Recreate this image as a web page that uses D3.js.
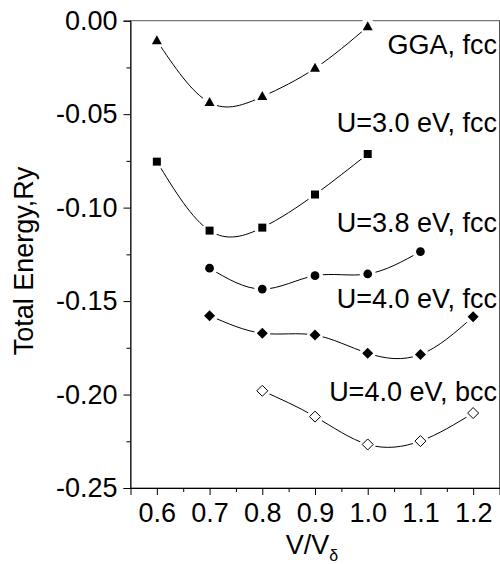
<!DOCTYPE html>
<meta charset="utf-8">
<script src="https://d3js.org/d3.v7.min.js"></script>
<style>
body { margin: 0; background: #fff; }
svg text { font-family: "Liberation Sans", Arial, sans-serif; fill: #000; }
</style>
<div id="chart"></div>
<script>
// volume ratios and total energies (Ry)
var vGGA = [0.6, 0.7, 0.8, 0.9, 1.0];
var eGGA = [-0.0107, -0.0438, -0.0406, -0.0255, -0.0032];

var vU30 = [0.6, 0.7, 0.8, 0.9, 1.0];
var eU30 = [-0.0754, -0.1123, -0.1107, -0.0930, -0.0713];

var vU38 = [0.7, 0.8, 0.9, 1.0, 1.1];
var eU38 = [-0.1324, -0.1436, -0.1364, -0.1355, -0.1235];

var vU40f = [0.7, 0.8, 0.9, 1.0, 1.1, 1.2];
var eU40f = [-0.1578, -0.1672, -0.1682, -0.1779, -0.1786, -0.1584];

var vU40b = [0.8, 0.9, 1.0, 1.1, 1.2];
var eU40b = [-0.1980, -0.2118, -0.2267, -0.2249, -0.2099];

var seriesLabels = ["GGA, fcc", "U=3.0 eV, fcc", "U=3.8 eV, fcc", "U=4.0 eV, fcc", "U=4.0 eV, bcc"];
var xTicks = [0.6, 0.7, 0.8, 0.9, 1.0, 1.1, 1.2];
var yTicks = [0.00, -0.05, -0.10, -0.15, -0.20, -0.25];

var W = 500, H = 564;
var svg = d3.select("#chart").append("svg")
    .attr("width", W)
    .attr("height", H);

var x = d3.scaleLinear().domain([0.55, 1.25]).range([130.5, 499.5]);
var y = d3.scaleLinear().domain([-0.25, 0]).range([488, 20.7]);

// frame
svg.append("rect")
    .attr("x", x(0.55)).attr("y", y(0))
    .attr("width", x(1.25) - x(0.55))
    .attr("height", y(-0.25) - y(0))
    .attr("fill", "none")
    .attr("stroke", "#555")
    .attr("stroke-width", 1);

// minor ticks
svg.append("g")
    .attr("transform", "translate(0," + y(-0.25) + ")")
    .call(d3.axisBottom(x).tickValues(d3.range(0.65, 1.25, 0.1)).tickSize(4).tickFormat(""))
    .call(function(g){ g.select(".domain").remove(); });
svg.append("g")
    .attr("transform", "translate(" + x(0.55) + ",0)")
    .call(d3.axisLeft(y).tickValues(d3.range(-0.225, 0, 0.05)).tickSize(4).tickFormat(""))
    .call(function(g){ g.select(".domain").remove(); });

// major axes (plain hyphen for the minus sign, as in the original)
var xAxis = svg.append("g")
    .attr("transform", "translate(0," + y(-0.25) + ")")
    .call(d3.axisBottom(x).tickValues(xTicks).tickSize(7).tickPadding(8)
      .tickFormat(function(d){ return d.toFixed(1); }));
var yAxis = svg.append("g")
    .attr("transform", "translate(" + x(0.55) + ",0)")
    .call(d3.axisLeft(y).tickValues(yTicks).tickSize(7).tickPadding(6)
      .tickFormat(function(d){ return Math.abs(d) < 1e-9 ? "0.00" : d.toFixed(2); }));

[xAxis, yAxis].forEach(function(g){
  g.selectAll("text")
    .style("font-size", "27px")
    .style("font-family", "'Liberation Sans', Arial, sans-serif")
    .attr("fill", "#000");
  g.selectAll("line").attr("stroke", "#000");
  g.select(".domain").attr("stroke", "#000");
});

// axis titles
svg.append("text")
    .attr("transform", "translate(33,261) rotate(-90)")
    .attr("text-anchor", "middle")
    .style("font-size", "27px")
    .text("Total Energy,Ry");

var xt = svg.append("text")
    .attr("x", 312)
    .attr("y", 554)
    .attr("text-anchor", "middle")
    .style("font-size", "27px");
xt.append("tspan").text("V/V");
xt.append("tspan").attr("dy", 7).style("font-size", "16px").text("δ");

// series
var series = [
  {v: vGGA, e: eGGA, sym: "triangle", label: seriesLabels[0], ly: 54},
  {v: vU30, e: eU30, sym: "square", label: seriesLabels[1], ly: 132},
  {v: vU38, e: eU38, sym: "circle", label: seriesLabels[2], ly: 232},
  {v: vU40f, e: eU40f, sym: "diamond", label: seriesLabels[3], ly: 308},
  {v: vU40b, e: eU40b, sym: "opendiamond", label: seriesLabels[4], ly: 401}
];

var line = d3.line()
    .x(function(d){ return x(d[0]); })
    .y(function(d){ return y(d[1]); })
    .curve(d3.curveNatural);

function symbolPath(s) {
  if (s === "triangle") return "M0,-5.5L5,3.5L-5,3.5Z";
  if (s === "square") return "M-4,-4H4V4H-4Z";
  if (s === "circle") return d3.symbol().type(d3.symbolCircle).size(60)();
  return "M0,-5.5L5.5,0L0,5.5L-5.5,0Z";
}

series.forEach(function(s){
  var pts = s.v.map(function(v, i){ return [v, s.e[i]]; });
  var g = svg.append("g");
  g.append("path")
      .attr("d", line(pts))
      .attr("fill", "none")
      .attr("stroke", "#000")
      .attr("stroke-width", 1);
  // white gaps around markers
  g.selectAll(".gap")
    .data(pts)
    .enter()
    .append("circle")
      .attr("cx", function(d){ return x(d[0]); })
      .attr("cy", function(d){ return y(d[1]); })
      .attr("r", 8)
      .attr("fill", "#fff");
  g.selectAll(".mark")
    .data(pts)
    .enter()
    .append("path")
      .attr("transform", function(d){ return "translate(" + x(d[0]) + "," + y(d[1]) + ")"; })
      .attr("d", symbolPath(s.sym))
      .attr("fill", s.sym === "opendiamond" ? "#fff" : "#000")
      .attr("stroke", "#000")
      .attr("stroke-width", s.sym === "opendiamond" ? 1 : 0);
  svg.append("text")
      .attr("x", 497)
      .attr("y", s.ly)
      .attr("text-anchor", "end")
      .style("font-size", "27px")
      .text(s.label);
});
</script>
